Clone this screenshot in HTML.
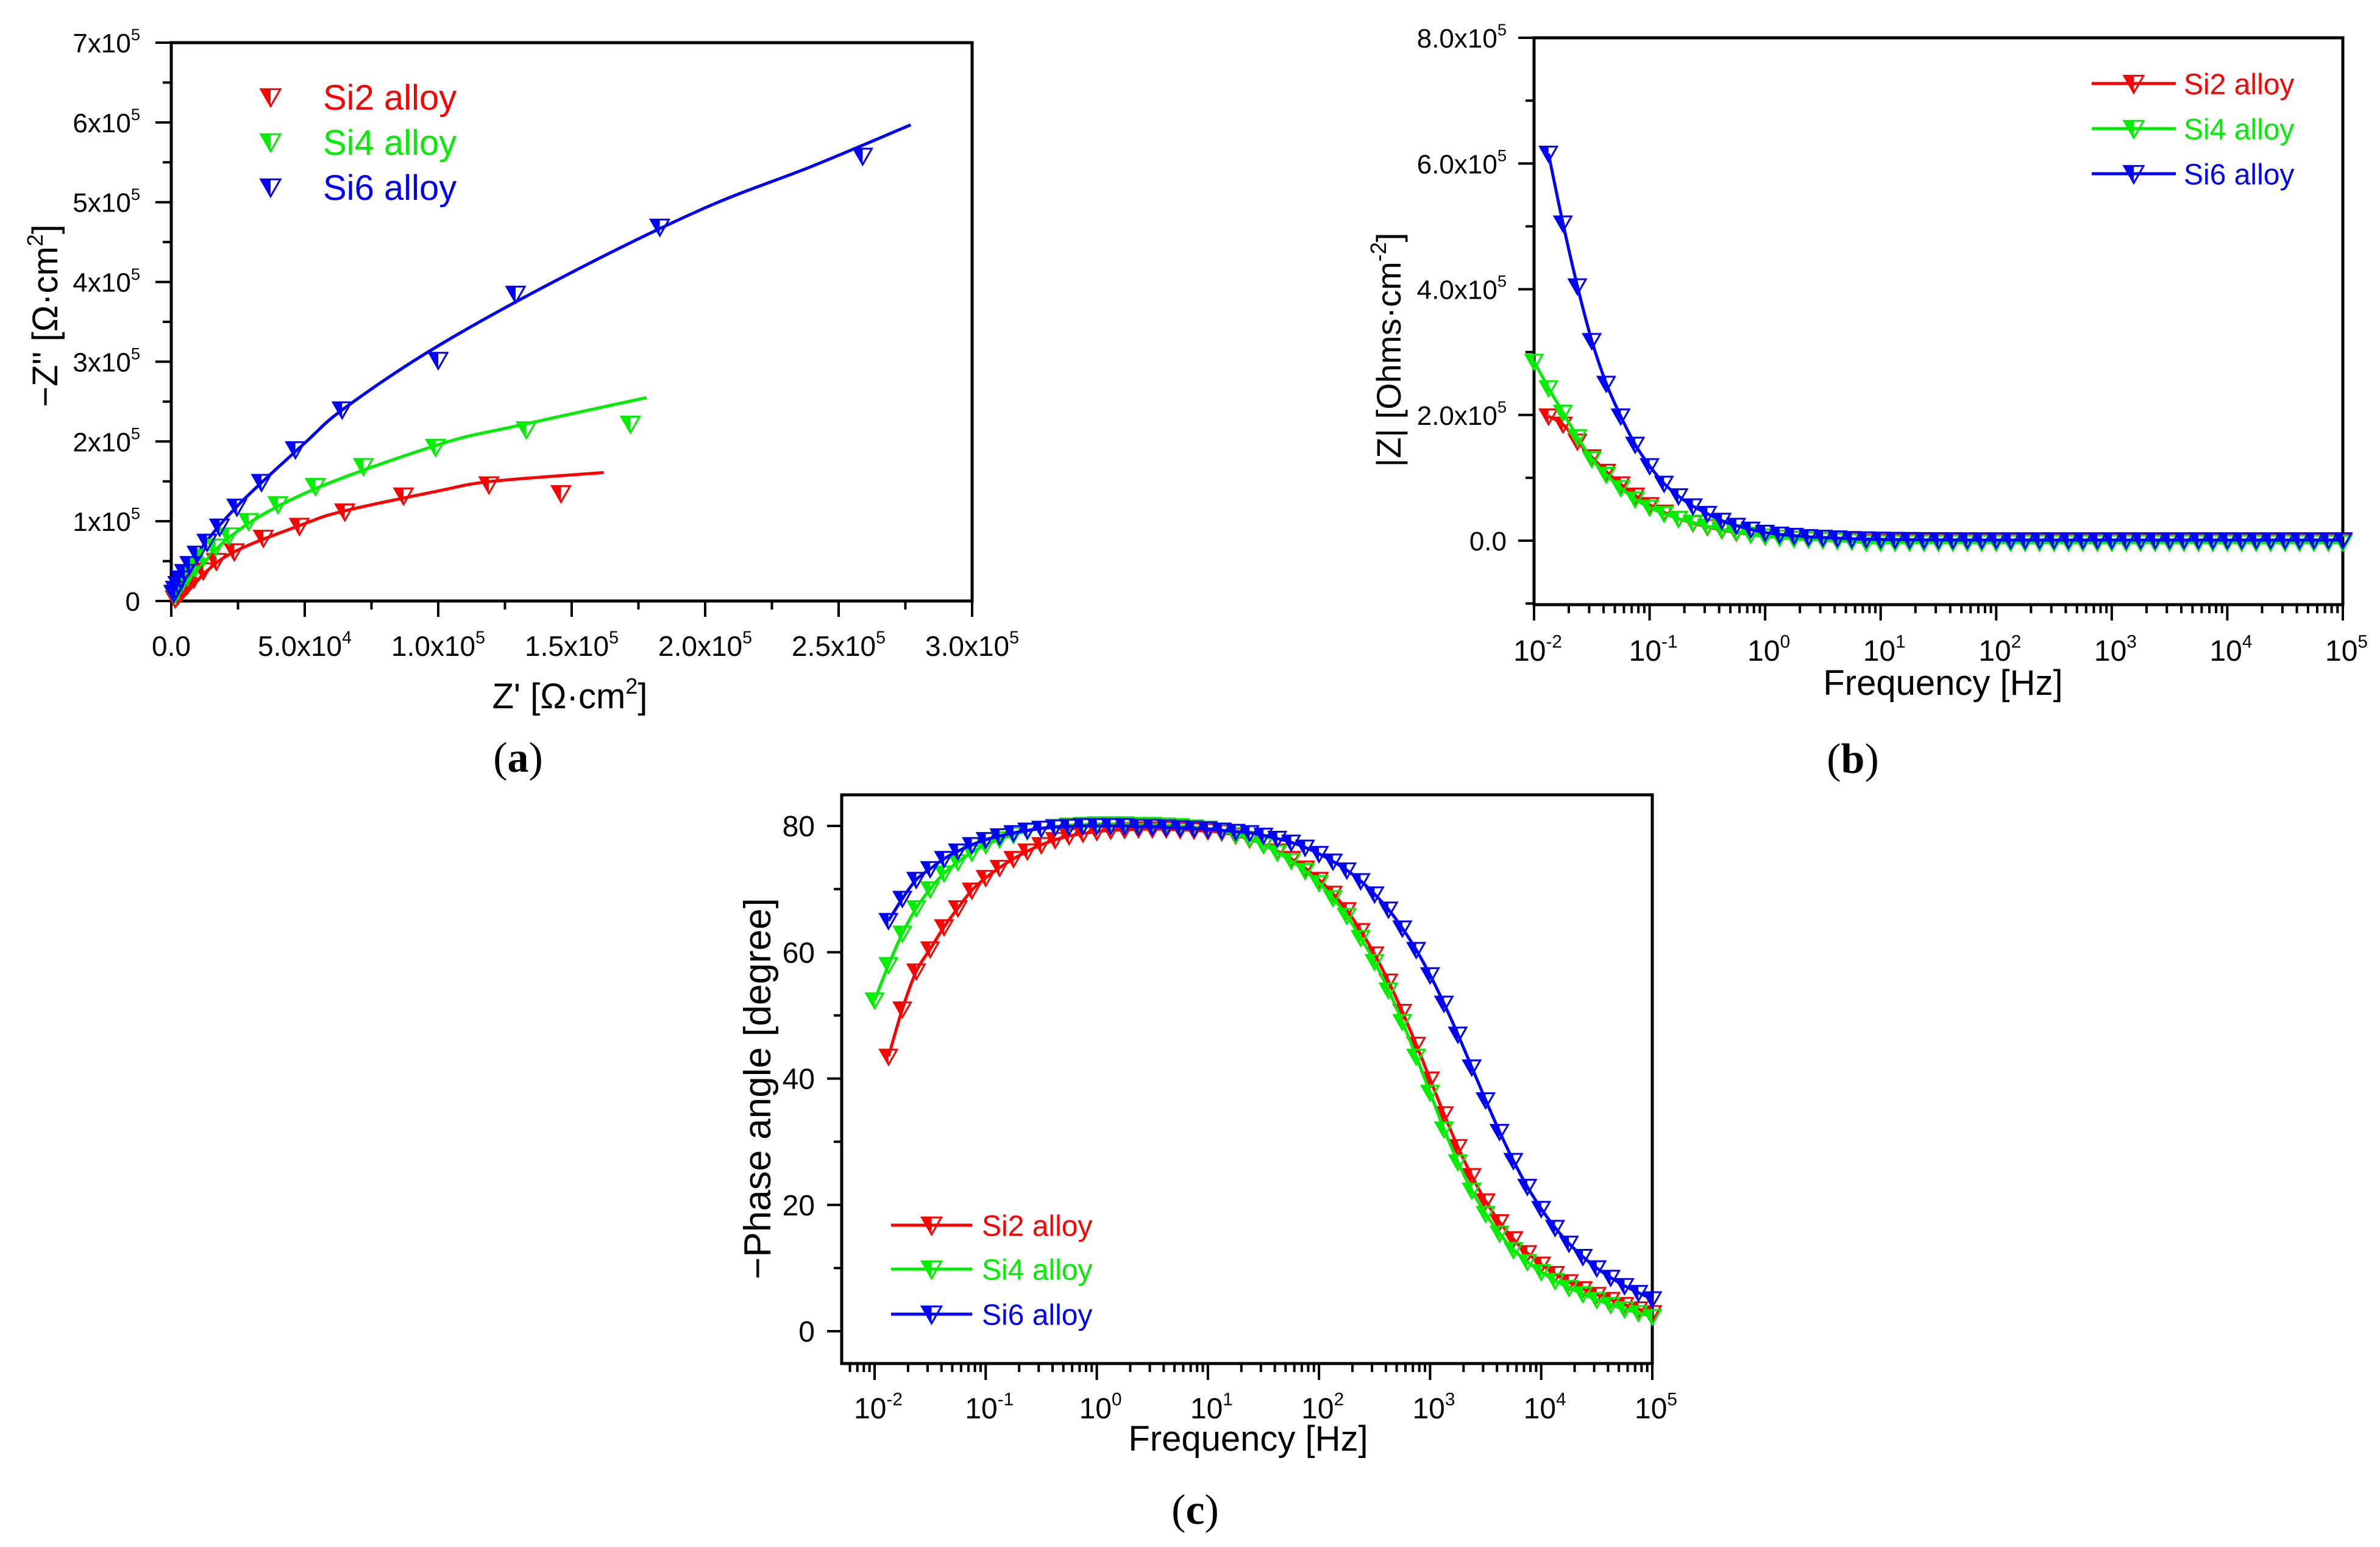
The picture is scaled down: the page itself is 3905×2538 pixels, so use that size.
<!DOCTYPE html>
<html><head><meta charset="utf-8"><title>EIS plots</title>
<style>
html,body{margin:0;padding:0;background:#fff;}
svg{display:block;font-family:"Liberation Sans",Arial,sans-serif;}
</style></head>
<body>
<svg id="fig" xmlns="http://www.w3.org/2000/svg" width="3905" height="2538" viewBox="0 0 3905 2538">
<rect x="0" y="0" width="3905" height="2538" fill="#fff"/>
<g id="pa"></g>
<g id="pb"></g>
<g id="pc"></g>
</svg>
<script>
// ---------- Panel (a) Nyquist data (units: Ohm·cm², scaled 1e5) ----------
const nyqRedX = [1.46,1.19,0.87,0.65,0.48,0.345,0.236,0.169,0.12,0.085,0.06,0.04,0.025,0.015];
const nyqRedY = [1.35,1.46,1.32,1.12,0.94,0.79,0.62,0.50,0.38,0.28,0.20,0.13,0.07,0.03];
const nyqGreenX = [1.72,1.33,0.99,0.72,0.54,0.40,0.29,0.216,0.166,0.12,0.09,0.065,0.045,0.03,0.02,0.012];
const nyqGreenY = [2.22,2.15,1.93,1.69,1.44,1.21,1.00,0.82,0.68,0.55,0.44,0.34,0.26,0.19,0.13,0.08];
const nyqBlueX = [2.59,1.83,1.29,1.00,0.64,0.465,0.338,0.246,0.181,0.134,0.097,0.07,0.05,0.035,0.025,0.016,0.01];
const nyqBlueY = [5.58,4.69,3.85,3.02,2.40,1.90,1.49,1.18,0.93,0.74,0.59,0.46,0.36,0.28,0.21,0.15,0.10];
const fitRedX = [0.03,0.2,0.5,0.65,1.0,1.2,1.62];
const fitRedY = [0,0.55,0.97,1.13,1.38,1.50,1.61];
const fitGreenX = [0.02,0.2,0.5,1.0,1.3,1.78];
const fitGreenY = [0,0.75,1.35,1.96,2.20,2.55];
const fitBlueX = [0,0.1,0.25,0.5,0.65,1.0,1.5,2.0,2.4,2.77];
const fitBlueY = [0,0.6,1.2,1.98,2.42,3.2,4.12,4.93,5.45,5.97];
const nyqXTicks = [0,0.5,1.0,1.5,2.0,2.5,3.0];
const nyqXTickLabels = [["0.0",""],["5.0x10","4"],["1.0x10","5"],["1.5x10","5"],["2.0x10","5"],["2.5x10","5"],["3.0x10","5"]];
const nyqYTicks = [0,1,2,3,4,5,6,7];
const nyqYTickLabels = [["0",""],["1x10","5"],["2x10","5"],["3x10","5"],["4x10","5"],["5x10","5"],["6x10","5"],["7x10","5"]];

// ---------- Shared log-frequency categories (log10 Hz) ----------
const logFreq = [-2,-1.875,-1.75,-1.625,-1.5,-1.375,-1.25,-1.125,-1,-0.875,-0.75,-0.625,-0.5,-0.375,-0.25,-0.125,0,0.125,0.25,0.375,0.5,0.625,0.75,0.875,1,1.125,1.25,1.375,1.5,1.625,1.75,1.875,2,2.125,2.25,2.375,2.5,2.625,2.75,2.875,3,3.125,3.25,3.375,3.5,3.625,3.75,3.875,4,4.125,4.25,4.375,4.5,4.625,4.75,4.875,5];

// ---------- Panel (b) |Z| (x1e5) ----------
const modRed = [null,1.98,1.85,1.58,1.33,1.10,0.90,0.72,0.57,0.45,0.35,0.28,0.22,0.17,0.13,0.10,0.07,0.05,0.035,0.025,0.015,0.01,0.005,-0.01,-0.01,-0.01,-0.01,-0.01,-0.01,-0.01,-0.01,-0.01,-0.01,-0.01,-0.01,-0.01,-0.01,-0.01,-0.01,-0.01,-0.01,-0.01,-0.01,-0.01,-0.01,-0.01,-0.01,-0.01,-0.01,-0.01,-0.01,-0.01,-0.01,-0.01,-0.01,-0.01,-0.01];
const modGreen = [2.85,2.43,2.04,1.65,1.30,1.05,0.84,0.66,0.53,0.43,0.35,0.29,0.23,0.18,0.14,0.10,0.07,0.05,0.03,0.02,0.01,0,-0.01,-0.03,-0.03,-0.03,-0.03,-0.03,-0.03,-0.03,-0.03,-0.03,-0.03,-0.03,-0.03,-0.03,-0.03,-0.03,-0.03,-0.03,-0.03,-0.03,-0.03,-0.03,-0.03,-0.03,-0.03,-0.03,-0.03,-0.03,-0.03,-0.03,-0.03,-0.03,-0.03,-0.03,-0.03];
const modBlue = [null,6.16,5.05,4.05,3.18,2.50,1.98,1.53,1.19,0.91,0.71,0.55,0.43,0.32,0.24,0.18,0.13,0.10,0.08,0.06,0.05,0.04,0.03,0.025,0.02,0.017,0.015,0.013,0.012,0.011,0.01,0.01,0.01,0.01,0.01,0.01,0.01,0.01,0.01,0.01,0.01,0.01,0.01,0.01,0.01,0.01,0.01,0.01,0.01,0.01,0.01,0.01,0.01,0.01,0.01,0.01,0.01];
const modYTicks = [0,2,4,6,8];
const modYTickLabels = [["0.0",""],["2.0x10","5"],["4.0x10","5"],["6.0x10","5"],["8.0x10","5"]];
const decadeTicks = [-2,-1,0,1,2,3,4,5];
const decadeLabels = ["-2","-1","0","1","2","3","4","5"];

// ---------- Panel (c) phase (degree) ----------
const phRed = [null,43.5,51,57,60.5,64,67,69.8,71.8,73.4,74.8,76,77,77.8,78.4,78.8,79.1,79.3,79.4,79.5,79.5,79.5,79.4,79.3,79.2,79.0,78.5,77.9,77.1,76.0,74.8,73.3,71.5,69.3,66.7,63.4,59.7,55.4,50.6,45.4,39.9,34.4,29.2,24.6,20.6,17.3,14.6,12.4,10.6,9.1,7.8,6.7,5.8,5.0,4.2,3.5,2.9];
const phGreen = [52.4,58,63,67,70,72.5,74.3,75.8,77,77.9,78.6,79.2,79.6,79.9,80.1,80.2,80.3,80.3,80.3,80.2,80.2,80.1,80.0,79.8,79.6,79.2,78.6,78.0,77.0,75.8,74.5,72.9,71.0,68.6,65.8,62.3,58.5,54.0,49.0,43.5,37.8,32.0,26.8,22.3,18.6,15.5,12.9,11.0,9.4,8.0,6.9,5.9,5.0,4.2,3.5,2.9,2.3];
const phBlue = [null,65,68.5,71.5,73.2,74.8,76,77,77.8,78.4,78.9,79.3,79.6,79.8,79.9,80,80,80,80,79.9,79.9,79.8,79.7,79.6,79.5,79.3,79.1,78.9,78.5,78.0,77.4,76.6,75.6,74.4,73.0,71.3,69.2,66.8,63.8,60.4,56.4,51.9,47.0,41.8,36.6,31.6,27.0,22.9,19.4,16.4,13.9,11.8,10.0,8.5,7.2,6.1,5.1];
const phYTicks = [0,20,40,60,80];

const seriesNames = ["Si2 alloy","Si4 alloy","Si6 alloy"];
const seriesColors = ["#ff0000","#00ee00","#0000ff"];

const NS = "http://www.w3.org/2000/svg";
function mk(parent, tag, attrs, text){
  const el = document.createElementNS(NS, tag);
  for (const k in attrs) el.setAttribute(k, attrs[k]);
  if (text !== undefined) el.textContent = text;
  parent.appendChild(el);
  return el;
}
function smoothPath(pts){
  if (pts.length < 2) return "";
  let d = "M" + pts[0][0].toFixed(1) + "," + pts[0][1].toFixed(1);
  for (let i = 0; i < pts.length - 1; i++){
    const p0 = pts[i-1] || pts[i], p1 = pts[i], p2 = pts[i+1], p3 = pts[i+2] || pts[i+1];
    const c1x = p1[0] + (p2[0]-p0[0])/6, c1y = p1[1] + (p2[1]-p0[1])/6;
    const c2x = p2[0] - (p3[0]-p1[0])/6, c2y = p2[1] - (p3[1]-p1[1])/6;
    d += "C" + c1x.toFixed(1) + "," + c1y.toFixed(1) + " " + c2x.toFixed(1) + "," + c2y.toFixed(1) + " " + p2[0].toFixed(1) + "," + p2[1].toFixed(1);
  }
  return d;
}
function marker(g, x, y, color, s){
  s = s || 15;
  const m = mk(g, "g", {});
  
  
  mk(m, "polygon", {points: (x-s)+","+(y-s*0.8)+" "+x+","+(y-s*0.8)+" "+x+","+(y+s*0.95), fill: color});
  mk(m, "polygon", {points: (x-s)+","+(y-s*0.8)+" "+(x+s)+","+(y-s*0.8)+" "+x+","+(y+s*0.95), fill: "none", stroke: color, "stroke-width": 3});
  return m;
}
function supLabel(g, x, y, base, sup, size, anchor, name){
  const t = mk(g, "text", {x: x, y: y, "font-size": size, "text-anchor": anchor, fill: "#000"});
  
  
  mk(t, "tspan", {}, base);
  if (sup) mk(t, "tspan", {dy: -size*0.45, "font-size": size*0.62}, sup);
  return t;
}
function box(g, L, R, T, B){
  const r = mk(g, "rect", {x: L, y: T, width: R-L, height: B-T, fill: "none", stroke: "#000", "stroke-width": 5});
  
  
}
function legendRow(g, x0, y, color, label, withLine, size, lineLen, textX){
  const lg = mk(g, "g", {});
  
  
  if (withLine) mk(lg, "line", {x1: x0, y1: y, x2: x0+lineLen, y2: y, stroke: color, "stroke-width": 5});
  marker(lg, withLine ? x0+lineLen/2 : x0, y, color, 16);
  mk(lg, "text", {x: textX, y: y + size*0.36, "font-size": size, fill: color}, label);
}

// ================= Panel (a) =================
(function(){
  const g = document.getElementById("pa");
  const L=281, R=1595, T=70, B=986;
  const xs = v => L + v/3.0*(R-L);
  const ys = v => B - v/7.0*(B-T);
  box(g, L, R, T, B);
  for (let v=0; v<=3.0001; v+=0.25){
    const maj = Math.abs(v*2-Math.round(v*2))<1e-6;
    mk(g,"line",{x1:xs(v),y1:B,x2:xs(v),y2:B+(maj?26:14),stroke:"#000","stroke-width":4});
  }
  for (let v=0; v<=7.0001; v+=0.5){
    const maj = Math.abs(v-Math.round(v))<1e-6;
    mk(g,"line",{x1:L,y1:ys(v),x2:L-(maj?26:14),y2:ys(v),stroke:"#000","stroke-width":4});
  }
  nyqXTicks.forEach((v,i)=>supLabel(g, xs(v), 1076, nyqXTickLabels[i][0], nyqXTickLabels[i][1], 46, "middle", "x-tick-label"));
  nyqYTicks.forEach((v,i)=>supLabel(g, 230, ys(v)+16, nyqYTickLabels[i][0], nyqYTickLabels[i][1], 44, "end", "y-tick-label"));
  const xt = mk(g,"text",{x:935,y:1162,"font-size":58,"text-anchor":"middle"});
   
  mk(xt,"tspan",{},"Z' [Ω·cm"); mk(xt,"tspan",{dy:-24,"font-size":36},"2"); mk(xt,"tspan",{dy:24},"]");
  const yt = mk(g,"text",{x:0,y:0,"font-size":58,"text-anchor":"middle",transform:"translate(94,518) rotate(-90)"});
   
  mk(yt,"tspan",{},"−Z'' [Ω·cm"); mk(yt,"tspan",{dy:-24,"font-size":36},"2"); mk(yt,"tspan",{dy:24},"]");
  const pl = mk(g,"text",{x:850,y:1266,"font-size":70,"text-anchor":"middle","font-family":"Liberation Serif, serif"});
   
  mk(pl,"tspan",{},"("); mk(pl,"tspan",{"font-weight":"bold"},"a"); mk(pl,"tspan",{},")");
  const fits = [[fitRedX,fitRedY],[fitGreenX,fitGreenY],[fitBlueX,fitBlueY]];
  fits.forEach((f,s)=>{
    const p = mk(g,"path",{d:smoothPath(f[0].map((x,i)=>[xs(x),ys(f[1][i])])),fill:"none",stroke:seriesColors[s],"stroke-width":5});
    
    
  });
  const pts = [[nyqRedX,nyqRedY],[nyqGreenX,nyqGreenY],[nyqBlueX,nyqBlueY]];
  pts.forEach((d,s)=>d[0].forEach((x,i)=>marker(g, xs(x), ys(d[1][i]), seriesColors[s], 15)));
  [159,233,307].forEach((y,i)=>legendRow(g, 444, y, seriesColors[i], seriesNames[i], false, 58, 0, 530));
})();

// ================= Panel (b) =================
(function(){
  const g = document.getElementById("pb");
  const L=2517, R=3844, T=62, B=992;
  const xs = lf => L + (lf+2)/7*(R-L);
  const y0 = 887, per = (887-62)/8;
  const ys = v => y0 - v*per;
  box(g, L, R, T, B);
  for (let d=-2; d<=5; d++){
    mk(g,"line",{x1:xs(d),y1:B,x2:xs(d),y2:B+26,stroke:"#000","stroke-width":4});
    if (d<5) for (let m=2;m<=9;m++) mk(g,"line",{x1:xs(d+Math.log10(m)),y1:B,x2:xs(d+Math.log10(m)),y2:B+14,stroke:"#000","stroke-width":4});
  }
  for (let v=-1; v<=8; v++){
    const maj = v%2===0;
    mk(g,"line",{x1:L,y1:ys(v),x2:L-(maj?26:14),y2:ys(v),stroke:"#000","stroke-width":4});
  }
  modYTicks.forEach((v,i)=>supLabel(g, 2472, ys(v)+16, modYTickLabels[i][0], modYTickLabels[i][1], 44, "end", "y-tick-label"));
  decadeTicks.forEach((d,i)=>supLabel(g, xs(d)+6, 1084, "10", decadeLabels[i], 48, "middle", "x-tick-label"));
  const xt = mk(g,"text",{x:3188,y:1140,"font-size":58,"text-anchor":"middle"},"Frequency [Hz]");
   
  const yt = mk(g,"text",{x:0,y:0,"font-size":56,"text-anchor":"middle",transform:"translate(2298,574) rotate(-90)"});
   
  mk(yt,"tspan",{},"|Z| [Ohms·cm"); mk(yt,"tspan",{dy:-24,"font-size":36},"-2"); mk(yt,"tspan",{dy:24},"]");
  const pl = mk(g,"text",{x:3040,y:1268,"font-size":70,"text-anchor":"middle","font-family":"Liberation Serif, serif"});
   
  mk(pl,"tspan",{},"("); mk(pl,"tspan",{"font-weight":"bold"},"b"); mk(pl,"tspan",{},")");
  [modRed,modGreen,modBlue].forEach((arr,s)=>{
    const pts=[]; arr.forEach((v,i)=>{ if(v!==null) pts.push([xs(logFreq[i]),ys(v)]); });
    const p = mk(g,"path",{d:smoothPath(pts),fill:"none",stroke:seriesColors[s],"stroke-width":5});
    
    
    arr.forEach((v,i)=>{ if(v!==null) marker(g, xs(logFreq[i]), ys(v), seriesColors[s], 14); });
  });
  [137,211,285].forEach((y,i)=>legendRow(g, 3432, y, seriesColors[i], seriesNames[i], true, 48, 138, 3583));
})();

// ================= Panel (c) =================
(function(){
  const g = document.getElementById("pc");
  const L=1381, R=2711, T=1304, B=2237;
  const x0 = 1435, dec = (2711-1435)/7;
  const xs = lf => x0 + (lf+2)*dec;
  const ys = v => 2184 - v*(2184-1355)/80;
  box(g, L, R, T, B);
  for (let d=-3; d<=5; d++){
    if (d>=-2) mk(g,"line",{x1:xs(d),y1:B,x2:xs(d),y2:B+27,stroke:"#000","stroke-width":4});
    if (d<5) for (let m=2;m<=9;m++){ const lx = xs(d+Math.log10(m)); if (lx>=L) mk(g,"line",{x1:lx,y1:B,x2:lx,y2:B+14,stroke:"#000","stroke-width":4}); }
  }
  for (let v=0; v<=80; v+=10){
    const maj = v%20===0;
    mk(g,"line",{x1:L,y1:ys(v),x2:L-(maj?24:13),y2:ys(v),stroke:"#000","stroke-width":4});
  }
  phYTicks.forEach(v=>supLabel(g, 1337, ys(v)+17, String(v), "", 48, "end", "y-tick-label"));
  decadeTicks.forEach((d,i)=>supLabel(g, xs(d)+6, 2327, "10", decadeLabels[i], 48, "middle", "x-tick-label"));
  const xt = mk(g,"text",{x:2048,y:2380,"font-size":58,"text-anchor":"middle"},"Frequency [Hz]");
   
  const yt = mk(g,"text",{x:0,y:0,"font-size":62,"text-anchor":"middle",transform:"translate(1264,1786) rotate(-90)"},"−Phase angle [degree]");
   
  const pl = mk(g,"text",{x:1961,y:2500,"font-size":70,"text-anchor":"middle","font-family":"Liberation Serif, serif"});
   
  mk(pl,"tspan",{},"("); mk(pl,"tspan",{"font-weight":"bold"},"c"); mk(pl,"tspan",{},")");
  [phRed,phGreen,phBlue].forEach((arr,s)=>{
    const pts=[]; arr.forEach((v,i)=>{ if(v!==null) pts.push([xs(logFreq[i]),ys(v)]); });
    const p = mk(g,"path",{d:smoothPath(pts),fill:"none",stroke:seriesColors[s],"stroke-width":5});
    
    
    arr.forEach((v,i)=>{ if(v!==null) marker(g, xs(logFreq[i]), ys(v), seriesColors[s], 14); });
  });
  [2010,2082,2156].forEach((y,i)=>legendRow(g, 1462, y, seriesColors[i], seriesNames[i], true, 48, 133, 1611));
})();
</script>
</body></html>
